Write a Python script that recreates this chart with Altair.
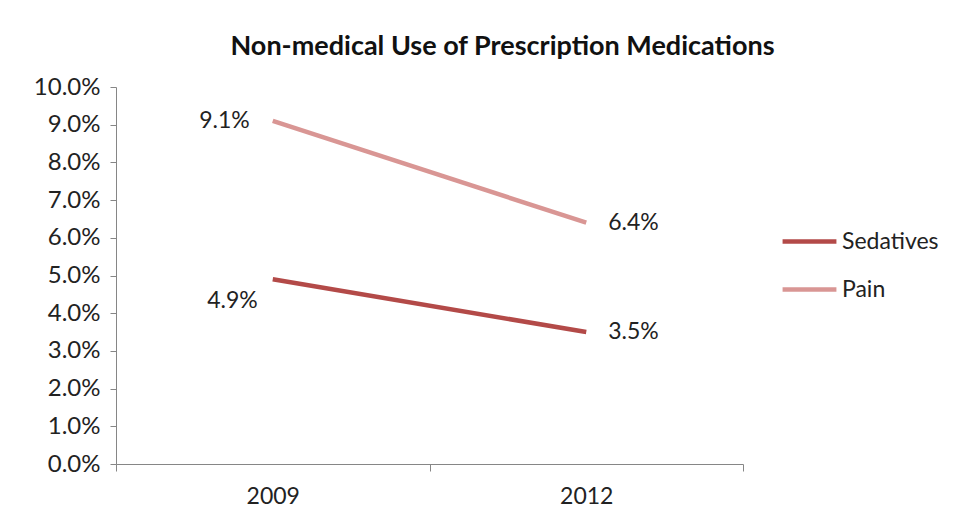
import altair as alt
import pandas as pd

years = ["2009", "2012"]
sedatives = [0.049, 0.035]
pain = [0.091, 0.064]
series_names = ["Sedatives", "Pain"]
colors = ["#B34A48", "#D99694"]
title_text = "Non-medical Use of Prescription Medications"

rows = []
for name, vals in zip(series_names, [sedatives, pain]):
    for y, v in zip(years, vals):
        rows.append({"year": y, "series": name, "value": v})
df = pd.DataFrame(rows)

FONT = "Lato"
GRAY = "#868686"

x_enc = alt.X(
    "year:N",
    bandPosition=0.5,
    scale=alt.Scale(type="band", paddingInner=0, paddingOuter=0, domain=years),
    axis=alt.Axis(
        title=None, tickBand="extent", tickSize=7, labelAngle=0,
        labelPadding=14, domainColor=GRAY, tickColor=GRAY,
        labelFontSize=23, labelColor="#222222", labelFont=FONT,
    ),
)
y_enc = alt.Y(
    "value:Q",
    scale=alt.Scale(domain=[0, 0.1], nice=False),
    axis=alt.Axis(
        title=None, values=[i / 100 for i in range(11)], format=".1%",
        grid=False, tickSize=6, labelPadding=10, domainColor=GRAY,
        tickColor=GRAY, labelFontSize=24, labelColor="#222222", labelFont=FONT,
        labelOverlap=False,
    ),
)

base = alt.Chart(df).encode(x=x_enc, y=y_enc)

lines = base.mark_line(strokeWidth=4.5).encode(
    color=alt.Color(
        "series:N",
        scale=alt.Scale(domain=series_names, range=colors),
        legend=alt.Legend(
            title=None, orient="none", legendX=664, legendY=125,
            symbolType="stroke", symbolStrokeWidth=4.5, symbolSize=2900,
            labelFontSize=23, labelFont=FONT, labelColor="#222222",
            rowPadding=6, labelOffset=3,
        ),
    ),
    detail="series:N",
)

txt_kw = dict(fontSize=23, font=FONT, color="#222222", baseline="middle")
label = alt.Text("value:Q", format=".1%")

t_pain09 = base.transform_filter(
    (alt.datum.year == "2009") & (alt.datum.series == "Pain")
).mark_text(align="right", dx=-23, **txt_kw).encode(text=label)
t_sed09 = base.transform_filter(
    (alt.datum.year == "2009") & (alt.datum.series == "Sedatives")
).mark_text(align="right", dx=-15, dy=22, **txt_kw).encode(text=label)
t_12 = base.transform_filter(alt.datum.year == "2012").mark_text(
    align="left", dx=22, **txt_kw
).encode(text=label)

chart = alt.layer(lines, t_pain09, t_sed09, t_12).properties(
    width=627,
    height=377,
    background="white",
    title=alt.TitleParams(
        title_text, font=FONT, fontSize=27, fontWeight="bold", color="#111111",
        anchor="middle", dx=73, offset=14,
    ),
    padding={"left": 108, "top": 79, "right": 200, "bottom": 60},
    autosize=alt.AutoSizeParams(type="none"),
).configure_view(stroke="transparent", strokeWidth=0)

chart.save("out.html", embed_options={"renderer": "svg", "actions": False})
